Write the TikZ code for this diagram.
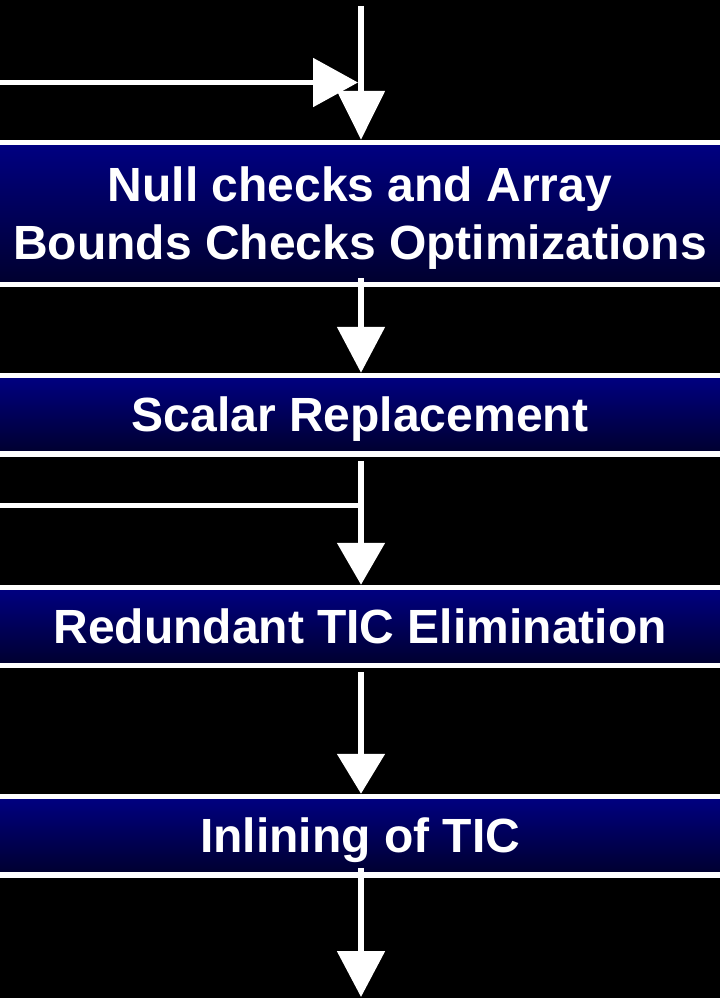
\documentclass[tikz,border=0pt]{standalone}
\usepackage{fontspec}
\setmainfont{Liberation Sans}
\usetikzlibrary{arrows.meta}
\definecolor{boxtop}{RGB}{0,0,130}
\definecolor{boxbottom}{RGB}{0,0,46}
\begin{document}
\begin{tikzpicture}[x=1pt,y=1pt,
  stage/.style={rectangle, draw=white, line width=5.5pt,
    top color=boxtop, bottom color=boxbottom,
    minimum width=726pt, inner sep=0pt, align=center,
    text=white, font=\fontsize{48}{57.5}\selectfont\bfseries,
    text height=34.4pt, text depth=0pt},
  flow/.style={draw=white, line width=5.5pt},
  tip/.style={-{Triangle[width=47pt,length=#1]}},
  tip/.default=46pt]
\useasboundingbox (0,0) rectangle (720,-998);
\fill[black] (0,0) rectangle (720,-998);

% pipeline stages
\node[stage, minimum height=142pt, text height=91.9pt] (b1) at (360,-213.5)
  {Null checks and Array\\Bounds Checks Optimizations};
\node[stage, minimum height=78.5pt] (b2) at (360,-414.75) {Scalar Replacement};
\node[stage, minimum height=78pt] (b3) at (360,-626.5) {Redundant TIC Elimination};
\node[stage, minimum height=78.5pt] (b4) at (360,-835.75) {Inlining of TIC};

% entry points
\coordinate (topin) at (361,-6);
\coordinate (leftin) at (0,-82.5);
\coordinate (leftjoin) at (358,-82.5);
\coordinate (midin) at (0,-505.5);
\coordinate (out) at (361,-997);

% connectors
\draw[flow, -{Triangle[width=48pt,length=45pt]}] (leftin) -- (leftjoin);
\draw[flow, tip=49pt] (topin) -- (topin |- b1.north);
\draw[flow, tip] ([xshift=1pt,yshift=9pt]b1.south) -- ([xshift=1pt]b2.north);
\coordinate (a2top) at ([xshift=1pt,yshift=-4pt]b2.south);
\draw[flow] (midin) -- (midin -| a2top);
\draw[flow, tip=42pt] (a2top) -- ([xshift=1pt]b3.north);
\draw[flow, tip=40pt] ([xshift=1pt,yshift=-4pt]b3.south) -- ([xshift=1pt]b4.north);
\draw[flow, tip] ([xshift=1pt,yshift=9.75pt]b4.south) -- (out);
\end{tikzpicture}
\end{document}
